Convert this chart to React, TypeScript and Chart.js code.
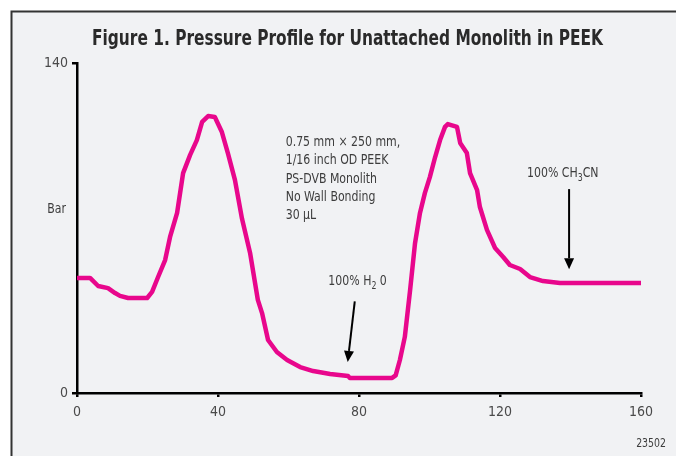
import React, { useEffect, useRef } from "react";
import { Chart, registerables } from "chart.js";

Chart.register(...registerables);

const timeMin = [0, 3.7, 6.0, 8.8, 10.8, 12.2, 14.5, 19.9, 21.3, 23.0, 25.0, 26.4, 28.4, 30.1, 32.1, 34.0, 35.5, 37.2, 39.1, 41.1, 42.8, 44.8, 46.8, 49.1, 51.3, 52.5, 54.2, 56.7, 59.6, 63.3, 67.0, 71.8, 76.9, 77.4, 89.4, 90.4, 91.6, 93.0, 94.5, 95.9, 97.3, 98.7, 100.1, 101.6, 103.0, 104.4, 105.2, 107.8, 108.7, 110.6, 111.5, 113.5, 114.3, 116.3, 118.6, 120.9, 122.8, 125.7, 128.5, 132.2, 137.0, 160];
const pressureBar = [48.8, 48.8, 45.4, 44.5, 42.4, 41.2, 40.3, 40.3, 42.9, 49.2, 56.4, 66.2, 76.4, 93.3, 101, 107.3, 115, 117.5, 117.1, 110.7, 101.8, 90.4, 74, 59.4, 39.5, 33.9, 22.5, 17.4, 14, 11, 9.3, 8.1, 7.2, 6.4, 6.4, 7.5, 14, 23.8, 43.7, 63.6, 76.4, 84.9, 91.6, 100.1, 107.3, 112.9, 114.1, 112.9, 106.1, 101.8, 93.3, 86.1, 78.9, 69.2, 61.5, 57.7, 54.3, 52.6, 49.2, 47.5, 46.7, 46.7];

const xTicks = [0, 40, 80, 120, 160];
const yTicks = [0, 140];

const titleText = "Figure 1. Pressure Profile for Unattached Monolith in PEEK";
const yAxisLabel = "Bar";
const infoLines = ["0.75 mm \u00d7 250 mm,", "1/16 inch OD PEEK", "PS-DVB Monolith", "No Wall Bonding", "30 \u00b5L"];
const waterLabel = [["100% H", "n"], ["2", "sub"], [" 0", "n"]];
const acnLabel = [["100% CH", "n"], ["3", "sub"], ["CN", "n"]];
const figNumber = "23502";

const FONT = '"DejaVu Sans Condensed", "Liberation Sans Narrow", sans-serif';
const TEXT = "#3d3d3d";
const LINE = "#e8078c";
const SQ = 0.87;

function fillSq(ctx: CanvasRenderingContext2D, text: string, x: number, y: number, align: CanvasTextAlign, sx: number) {
  ctx.save();
  ctx.translate(x, y);
  ctx.scale(sx, 1);
  ctx.textAlign = align;
  ctx.fillText(text, 0, 0);
  ctx.restore();
}

function drawRich(ctx: CanvasRenderingContext2D, parts: string[][], x: number, y: number, size: number) {
  let w = 0;
  for (const [t, k] of parts) {
    ctx.font = `${k === "sub" ? Math.round(size * 0.72) : size}px ${FONT}`;
    w += ctx.measureText(t).width * SQ;
  }
  let cx = x - w / 2;
  ctx.textBaseline = "middle";
  for (const [t, k] of parts) {
    const s = k === "sub" ? Math.round(size * 0.72) : size;
    ctx.font = `${s}px ${FONT}`;
    fillSq(ctx, t, cx, k === "sub" ? y + 5 : y, "left", SQ);
    cx += ctx.measureText(t).width * SQ;
  }
}

function arrow(ctx: CanvasRenderingContext2D, x1: number, y1: number, x2: number, y2: number) {
  const a = Math.atan2(y2 - y1, x2 - x1);
  const L = 11, W = 5;
  const bx = x2 - L * Math.cos(a), by = y2 - L * Math.sin(a);
  ctx.strokeStyle = "#000";
  ctx.fillStyle = "#000";
  ctx.lineWidth = 2;
  ctx.beginPath();
  ctx.moveTo(x1, y1);
  ctx.lineTo(bx, by);
  ctx.stroke();
  ctx.beginPath();
  ctx.moveTo(x2, y2);
  ctx.lineTo(bx + W * Math.sin(a), by - W * Math.cos(a));
  ctx.lineTo(bx - W * Math.sin(a), by + W * Math.cos(a));
  ctx.closePath();
  ctx.fill();
}

const framePlugin = {
  id: "frame",
  beforeDraw(chart: any) {
    const { ctx, width, height } = chart;
    ctx.save();
    ctx.fillStyle = "#ffffff";
    ctx.fillRect(0, 0, width, height);
    ctx.fillStyle = "#f1f2f4";
    ctx.fillRect(12, 12, width - 12, height - 12);
    ctx.strokeStyle = "#333333";
    ctx.lineWidth = 2;
    ctx.beginPath();
    ctx.moveTo(11.5, height);
    ctx.lineTo(11.5, 11.5);
    ctx.lineTo(width, 11.5);
    ctx.stroke();
    ctx.fillStyle = "#2a2a2a";
    ctx.font = `bold 21px ${FONT}`;
    ctx.textBaseline = "alphabetic";
    const tw = ctx.measureText(titleText).width;
    fillSq(ctx, titleText, 347.5, 45, "center", 511 / tw);
    ctx.restore();
  },
  afterDraw(chart: any) {
    const { ctx } = chart;
    const xs = chart.scales.x, ys = chart.scales.y;
    const px = (v: number) => xs.getPixelForValue(v);
    const py = (v: number) => ys.getPixelForValue(v);
    ctx.save();
    ctx.fillStyle = TEXT;
    ctx.font = `14px ${FONT}`;
    ctx.textBaseline = "middle";
    fillSq(ctx, yAxisLabel, xs.left - 11, py(78), "right", SQ);
    infoLines.forEach((l, i) => fillSq(ctx, l, px(59.2), py(106.4) + i * 18.4, "left", SQ));
    drawRich(ctx, waterLabel, px(79.6), py(47.5), 14);
    arrow(ctx, px(78.8), py(38.9), px(76.8), py(13.2));
    ctx.fillStyle = TEXT;
    drawRich(ctx, acnLabel, px(137.8), py(93), 14);
    arrow(ctx, px(139.6), py(86.5), px(139.6), py(52.5));
    ctx.fillStyle = TEXT;
    ctx.font = `12px ${FONT}`;
    fillSq(ctx, figNumber, 666, 444, "right", SQ);
    ctx.restore();
  },
};

export default function App() {
  const ref = useRef<HTMLCanvasElement>(null);
  useEffect(() => {
    document.body.style.margin = "0";
    document.body.style.overflow = "hidden";
    const chart = new Chart(ref.current!, {
      type: "line",
      data: {
        datasets: [
          {
            data: timeMin.map((t, i) => ({ x: t, y: pressureBar[i] })),
            borderColor: LINE,
            borderWidth: 4.5,
            pointRadius: 0,
            tension: 0,
            borderJoinStyle: "round",
            fill: false,
          },
        ],
      },
      options: {
        animation: false,
        responsive: false,
        layout: { padding: { left: 0, right: 35, top: 63, bottom: 0 } },
        plugins: {
          legend: { display: false },
          tooltip: { enabled: false },
          title: { display: false },
        },
        scales: {
          x: {
            type: "linear",
            min: 0,
            max: 160,
            afterBuildTicks: (s: any) => { s.ticks = xTicks.map((v) => ({ value: v })); },
            afterFit: (s: any) => { s.height = 63; },
            border: { display: true, color: "#000", width: 2.5 },
            grid: { display: true, drawOnChartArea: false, drawTicks: true, tickLength: 4, color: "#000", lineWidth: 2.5 },
            ticks: { color: "#4a4a4a", font: { family: FONT, size: 14 }, padding: 7, maxRotation: 0 },
          },
          y: {
            type: "linear",
            min: 0,
            max: 140,
            afterBuildTicks: (s: any) => { s.ticks = yTicks.map((v) => ({ value: v })); },
            afterFit: (s: any) => { s.width = 77; },
            border: { display: true, color: "#000", width: 2.5 },
            grid: { display: true, drawOnChartArea: false, drawTicks: true, tickLength: 5, color: "#000", lineWidth: 2.5 },
            ticks: { color: "#4a4a4a", font: { family: FONT, size: 14 }, padding: 4 },
          },
        },
      },
      plugins: [framePlugin],
    } as any);
    return () => chart.destroy();
  }, []);
  return <canvas ref={ref} width={676} height={456} style={{ display: "block" }} />;
}
